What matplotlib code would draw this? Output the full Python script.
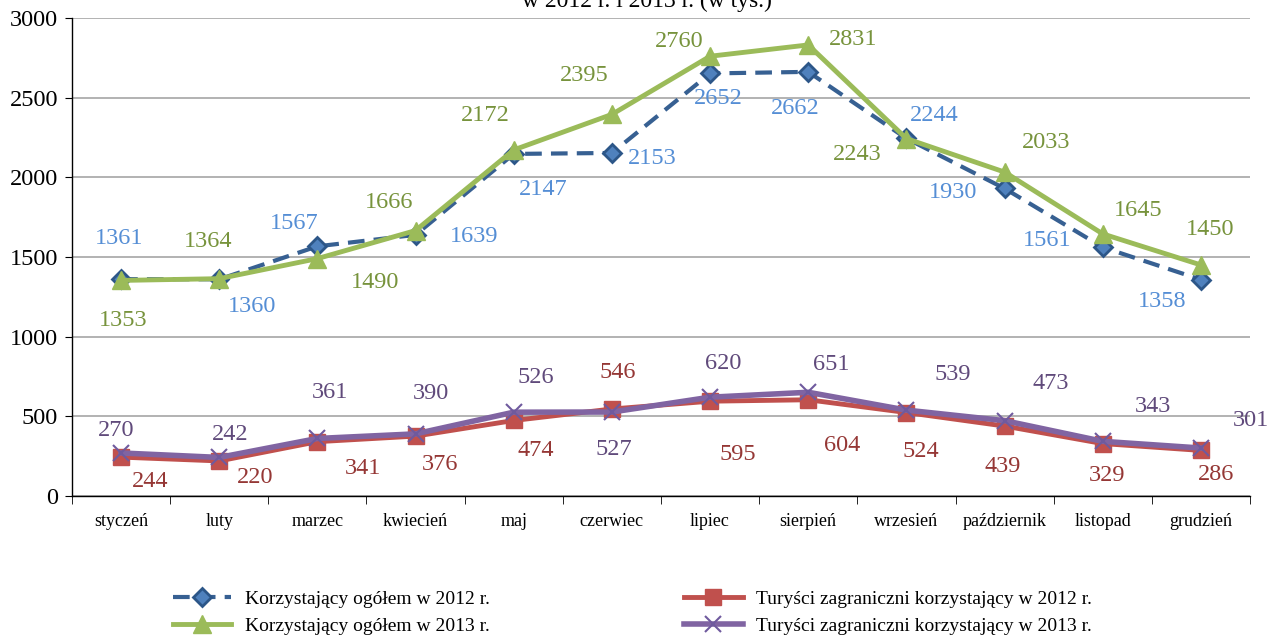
import numpy as np
import matplotlib
matplotlib.use("Agg")
import matplotlib.pyplot as plt

# === dane (w tys.) ===
miesiace = ["styczeń", "luty", "marzec", "kwiecień", "maj", "czerwiec", "lipiec",
            "sierpień", "wrzesień", "październik", "listopad", "grudzień"]
ogolem_2012 = [1361, 1360, 1567, 1639, 2147, 2153, 2652, 2662, 2244, 1930, 1561, 1358]
ogolem_2013 = [1353, 1364, 1490, 1666, 2172, 2395, 2760, 2831, 2243, 2033, 1645, 1450]
zagr_2012 = [244, 220, 341, 376, 474, 546, 595, 604, 524, 439, 329, 286]
zagr_2013 = [270, 242, 361, 390, 526, 527, 620, 651, 539, 473, 343, 301]

# przesunięcia etykiet (piksele)
off_og12 = [(-2, 41), (33, -27), (-23, 23), (59, -2), (29, -36), (40, -6),
            (8, -25), (-13, -37), (28, 23), (-52, -4), (-56, 7), (-39, -22)]
off_og13 = [(2, -40), (-11, 37), (58, -24), (-26, 28), (-28, 34), (-28, 39),
            (-31, 15), (45, 5), (-49, -16), (42, 30), (35, 23), (9, 35)]
off_z12 = [(29, -24), (36, -17), (46, -27), (24, -28), (22, -30), (6, 37),
           (28, -53), (34, -46), (14, -39), (-2, -40), (4, -32), (15, -24)]
off_z13 = [(-5, 22), (11, 23), (13, 46), (15, 40), (22, 35), (2, -37),
           (13, 34), (23, 28), (46, 36), (46, 37), (50, 35), (50, 28)]

plt.rcParams['font.family'] = ['Liberation Serif', 'DejaVu Serif']

fig = plt.figure(figsize=(12.78, 6.37), dpi=100)
ax = fig.add_axes([72 / 1278, 1 - 496 / 637, (1250 - 72) / 1278, (496 - 18) / 637])

x = np.arange(len(miesiace))

ax.plot(x, ogolem_2012, color='#376092', lw=3, dashes=(4, 2.2), marker='D', ms=9,
        mfc='#4F81BD', mec='#2C5688', mew=2, label='Korzystający ogółem w 2012 r.', zorder=3)
ax.plot(x, ogolem_2013, color='#9BBB59', lw=3.5, marker='^', ms=13,
        mfc='#9BBB59', mec='#9BBB59', label='Korzystający ogółem w 2013 r.', zorder=4)
ax.plot(x, zagr_2012, color='#C0504D', lw=3.5, marker='s', ms=12,
        mfc='#C0504D', mec='#C0504D', label='Turyści zagraniczni korzystający w 2012 r.', zorder=3)
ax.plot(x, zagr_2013, color='#8064A2', lw=4, marker='x', ms=12, mew=1.5,
        mec='#6F5A9E', label='Turyści zagraniczni korzystający w 2013 r.', zorder=4)

def etykiety(vals, offs, kolor):
    for xi, v, (dx, dy) in zip(x, vals, offs):
        ax.annotate(str(v), (xi, v), xytext=(dx, dy), textcoords='offset pixels',
                    ha='center', va='center', fontsize=17.5, color=kolor, zorder=5)

etykiety(ogolem_2012, off_og12, '#558ED5')
etykiety(ogolem_2013, off_og13, '#77933C')
etykiety(zagr_2012, off_z12, '#953735')
etykiety(zagr_2013, off_z13, '#604A7B')

ax.set_xlim(-0.5, len(miesiace) - 0.5)
ax.set_ylim(0, 3000)
ax.set_yticks(np.arange(0, 3001, 500))
ax.yaxis.grid(True, color='#A6A6A6', lw=1.2)
ax.set_axisbelow(True)
ax.tick_params(axis='y', labelsize=17.5, length=5, direction='out', pad=5)

ax.set_xticks(x)
ax.set_xticklabels(miesiace, fontsize=13)
ax.set_xticks(np.arange(-0.5, len(miesiace)), minor=True)
ax.tick_params(axis='x', which='major', length=0, pad=12)
ax.tick_params(axis='x', which='minor', length=6, direction='out')

for s in ['top', 'right']:
    ax.spines[s].set_visible(False)
for s in ['left', 'bottom']:
    ax.spines[s].set_color('black')
    ax.spines[s].set_linewidth(1)

h, l = ax.get_legend_handles_labels()
fig.legend(h, l, loc='center', bbox_to_anchor=(0.495, 0.038), ncol=2, frameon=False,
           fontsize=14, handlelength=3.0, columnspacing=10, handletextpad=0.7,
           labelspacing=0.5)

fig.text(0.506, 0.989, 'w 2012 r. i 2013 r. (w tys.)', ha='center', va='baseline',
         fontsize=17)

fig.savefig('out.png', dpi=100)
